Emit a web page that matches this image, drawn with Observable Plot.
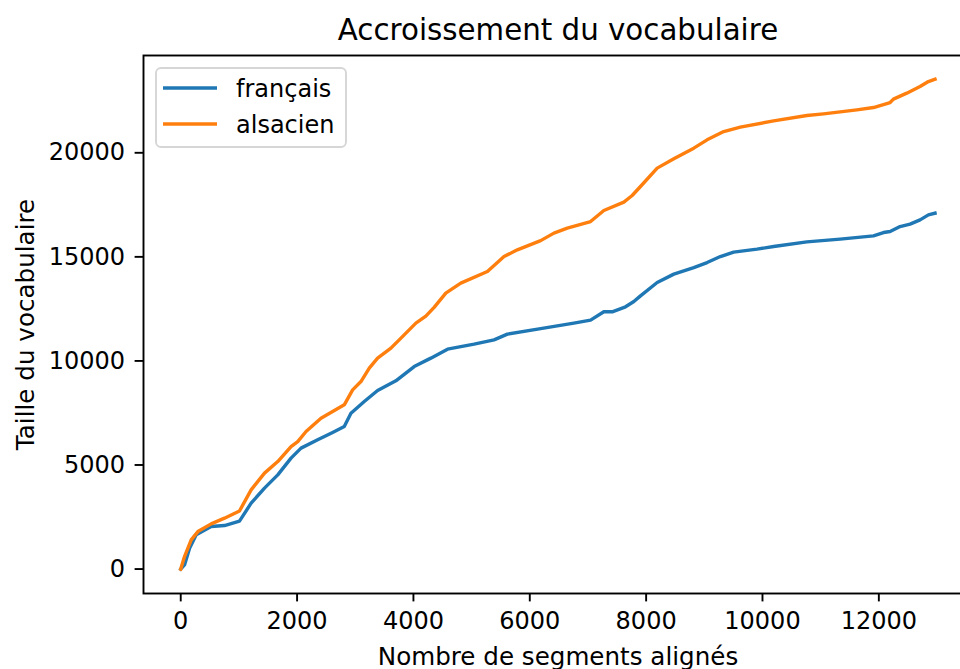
<!DOCTYPE html>
<html>
<head>
<meta charset="utf-8">
<script src="https://cdn.jsdelivr.net/npm/d3@7"></script>
<script src="https://cdn.jsdelivr.net/npm/@observablehq/plot@0.6"></script>
<style>
  html, body { margin: 0; padding: 0; background: #fff; overflow: hidden; }
  #wrap { position: relative; width: 960px; height: 669px; font-family: "DejaVu Sans", sans-serif; }
  #legend { position: absolute; left: 150px; top: 62px; }
</style>
</head>
<body>
<div id="wrap"></div>
<script>
// ---- Data ----
const seriesNames = ["français", "alsacien"];
const seriesColors = ["#1f77b4", "#ff7f0e"];

const francaisX = [0, 65, 152, 266, 523, 752, 1010, 1210, 1440, 1668, 1896, 2068, 2354, 2611, 2811, 2926, 3155, 3384, 3698, 4013, 4299, 4586, 5043, 5386, 5615, 6187, 6758, 7045, 7273, 7417, 7646, 7789, 7903, 8190, 8476, 8819, 9048, 9276, 9505, 9906, 10192, 10763, 11335, 11908, 12080, 12194, 12365, 12537, 12709, 12852, 12966];
const francaisY = [0, 200, 1000, 1643, 2043, 2090, 2300, 3166, 3887, 4526, 5328, 5809, 6208, 6559, 6847, 7490, 8048, 8577, 9043, 9730, 10134, 10566, 10806, 11013, 11287, 11550, 11815, 11960, 12360, 12360, 12600, 12853, 13127, 13766, 14170, 14487, 14727, 15015, 15227, 15371, 15496, 15722, 15852, 16010, 16169, 16217, 16457, 16572, 16779, 17019, 17100];

const alsacienX = [0, 65, 180, 295, 523, 752, 1010, 1210, 1440, 1668, 1896, 2011, 2154, 2411, 2811, 2955, 3098, 3241, 3384, 3613, 3841, 4042, 4213, 4356, 4556, 4814, 5272, 5557, 5786, 6187, 6415, 6645, 7045, 7273, 7617, 7760, 7903, 8190, 8476, 8819, 9048, 9334, 9619, 10192, 10763, 11050, 11622, 11908, 12194, 12251, 12480, 12709, 12852, 12966];
const alsacienY = [0, 600, 1400, 1800, 2170, 2445, 2790, 3805, 4610, 5165, 5885, 6126, 6607, 7250, 7890, 8610, 9010, 9652, 10133, 10614, 11253, 11815, 12150, 12570, 13257, 13737, 14295, 15016, 15337, 15780, 16140, 16380, 16697, 17226, 17630, 17947, 18380, 19263, 19710, 20224, 20623, 21022, 21233, 21536, 21790, 21872, 22064, 22174, 22415, 22578, 22866, 23184, 23424, 23540];

const xTicks = [0, 2000, 4000, 6000, 8000, 10000, 12000];
const yTicks = [0, 5000, 10000, 15000, 20000];

const titleText = "Accroissement du vocabulaire";
const xLabelText = "Nombre de segments alignés";
const yLabelText = "Taille du vocabulaire";

// ---- Build table ----
const rows = [];
francaisX.forEach((x, i) => rows.push({serie: seriesNames[0], x, y: francaisY[i]}));
alsacienX.forEach((x, i) => rows.push({serie: seriesNames[1], x, y: alsacienY[i]}));

const FONT = "DejaVu Sans";

const chart = Plot.plot({
  width: 960,
  height: 669,
  marginLeft: 143,
  marginRight: -12,
  marginTop: 55,
  marginBottom: 76,
  style: {fontFamily: FONT, fontSize: "24px", color: "black", background: "white", overflow: "hidden"},
  x: {domain: [-640, 13610]},
  y: {domain: [-1175, 24675]},
  color: {domain: seriesNames, range: seriesColors},
  marks: [
    Plot.line(rows, {x: "x", y: "y", z: "serie", stroke: "serie", strokeWidth: 3.4, strokeLinejoin: "round", strokeLinecap: "square"}),
    Plot.frame({stroke: "black", strokeWidth: 1.9}),
    Plot.axisX({ticks: xTicks, tickSize: 8.4, tickPadding: 10, strokeWidth: 1.9, tickFormat: d => String(d), label: null, fontSize: 24, fontFamily: FONT}),
    Plot.axisY({ticks: yTicks, tickSize: 8.4, tickPadding: 10, strokeWidth: 1.9, tickFormat: d => String(d), label: null, fontSize: 24, fontFamily: FONT}),
    Plot.text([titleText], {text: d => d, frameAnchor: "top", dy: -16, lineAnchor: "bottom", textAnchor: "middle", fontSize: 29.3, fontFamily: FONT, fill: "black"}),
    Plot.text([xLabelText], {text: d => d, frameAnchor: "bottom", dy: 71, lineAnchor: "bottom", textAnchor: "middle", fontSize: 24.6, fontFamily: FONT, fill: "black"}),
    Plot.text([yLabelText], {text: d => d, frameAnchor: "left", dx: -110, rotate: -90, lineAnchor: "bottom", textAnchor: "middle", fontSize: 24.6, fontFamily: FONT, fill: "black"})
  ]
});

const wrap = document.getElementById("wrap");
wrap.appendChild(chart);

// ---- Legend (matplotlib-style box, upper left) ----
const ns = "http://www.w3.org/2000/svg";
const leg = document.createElementNS(ns, "svg");
leg.setAttribute("id", "legend");
leg.setAttribute("width", "204");
leg.setAttribute("height", "94");
const box = document.createElementNS(ns, "rect");
box.setAttribute("x", "6"); box.setAttribute("y", "6");
box.setAttribute("width", "190"); box.setAttribute("height", "79");
box.setAttribute("rx", "5");
box.setAttribute("fill", "rgba(255,255,255,0.8)");
box.setAttribute("stroke", "#d6d6d6");
box.setAttribute("stroke-width", "1.9");
leg.appendChild(box);
seriesNames.forEach((name, i) => {
  const yLine = 26 + i * 36;
  const ln = document.createElementNS(ns, "line");
  ln.setAttribute("x1", "13"); ln.setAttribute("x2", "67");
  ln.setAttribute("y1", yLine); ln.setAttribute("y2", yLine);
  ln.setAttribute("stroke", seriesColors[i]);
  ln.setAttribute("stroke-width", "3.4");
  leg.appendChild(ln);
  const tx = document.createElementNS(ns, "text");
  tx.setAttribute("x", "86");
  tx.setAttribute("y", yLine + 8.7);
  tx.setAttribute("font-family", FONT);
  tx.setAttribute("font-size", "24");
  tx.setAttribute("fill", "black");
  tx.textContent = name;
  leg.appendChild(tx);
});
wrap.appendChild(leg);
</script>
</body>
</html>
